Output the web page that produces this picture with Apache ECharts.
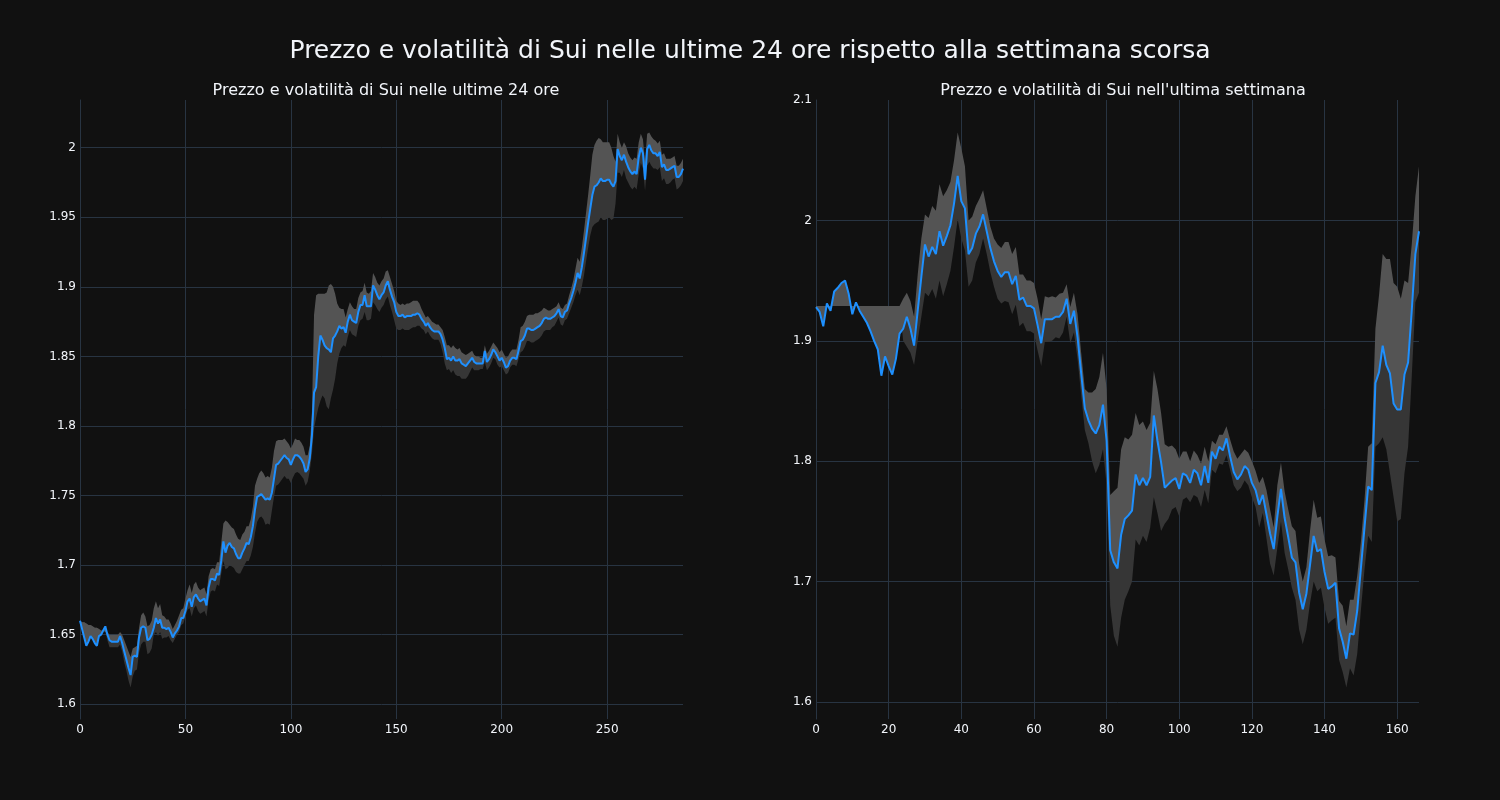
<!DOCTYPE html>
<html><head><meta charset="utf-8">
<script src="https://cdn.jsdelivr.net/npm/echarts@6/dist/echarts.min.js"></script>
<style>html,body{margin:0;padding:0;background:#111111;}#chart{width:1500px;height:800px;}</style>
</head><body><div id="chart"></div>
<script>
const mainTitle = "Prezzo e volatilità di Sui nelle ultime 24 ore rispetto alla settimana scorsa";
const dayTitle = "Prezzo e volatilità di Sui nelle ultime 24 ore";
const weekTitle = "Prezzo e volatilità di Sui nell'ultima settimana";

const dayPrice = [
1.660,1.654,1.648,1.642,1.645,1.649,1.647,1.644,1.642,1.649,
1.650,1.653,1.656,1.650,1.646,1.645,1.645,1.645,1.645,1.649,
1.644,1.638,1.632,1.626,1.621,1.634,1.635,1.634,1.648,1.655,
1.656,1.655,1.646,1.647,1.650,1.655,1.662,1.658,1.661,1.655,
1.655,1.654,1.655,1.652,1.648,1.651,1.653,1.656,1.662,1.662,
1.667,1.674,1.676,1.670,1.677,1.679,1.676,1.674,1.675,1.676,
1.671,1.684,1.690,1.690,1.689,1.694,1.693,1.703,1.717,1.709,
1.714,1.716,1.713,1.712,1.708,1.705,1.705,1.709,1.712,1.716,
1.715,1.720,1.728,1.740,1.749,1.750,1.751,1.749,1.747,1.748,
1.747,1.752,1.762,1.772,1.773,1.775,1.777,1.779,1.777,1.776,
1.772,1.776,1.779,1.779,1.778,1.776,1.773,1.767,1.769,1.777,
1.793,1.824,1.828,1.850,1.865,1.862,1.858,1.856,1.855,1.853,
1.863,1.865,1.868,1.872,1.870,1.871,1.867,1.875,1.880,1.876,
1.875,1.874,1.882,1.887,1.887,1.894,1.886,1.886,1.886,1.901,
1.898,1.894,1.891,1.894,1.896,1.901,1.904,1.898,1.893,1.889,
1.882,1.879,1.879,1.880,1.878,1.879,1.879,1.879,1.880,1.880,
1.881,1.880,1.877,1.875,1.872,1.874,1.871,1.869,1.868,1.868,
1.868,1.866,1.862,1.856,1.848,1.849,1.847,1.850,1.847,1.847,
1.848,1.845,1.844,1.843,1.845,1.847,1.849,1.846,1.845,1.845,
1.845,1.845,1.854,1.846,1.848,1.851,1.855,1.853,1.850,1.847,
1.849,1.846,1.842,1.843,1.847,1.849,1.849,1.848,1.854,1.861,
1.862,1.865,1.870,1.870,1.869,1.869,1.870,1.871,1.872,1.874,
1.877,1.878,1.877,1.877,1.878,1.879,1.881,1.884,1.879,1.878,
1.882,1.883,1.888,1.892,1.897,1.903,1.910,1.906,1.914,1.924,
1.935,1.946,1.956,1.966,1.972,1.973,1.975,1.978,1.976,1.976,
1.977,1.977,1.974,1.972,1.976,1.999,1.994,1.991,1.995,1.990,
1.986,1.983,1.981,1.983,1.981,1.993,2.000,1.996,1.977,1.999,
2.002,1.998,1.996,1.996,1.994,1.997,1.986,1.988,1.984,1.984,
1.985,1.986,1.987,1.979,1.979,1.981,1.985
];
const dayUpper = [
1.660,1.659,1.659,1.658,1.657,1.657,1.656,1.655,1.655,1.654,
1.653,1.653,1.652,1.652,1.650,1.650,1.650,1.650,1.650,1.652,
1.650,1.646,1.642,1.638,1.634,1.640,1.641,1.642,1.655,1.664,
1.666,1.663,1.656,1.657,1.660,1.669,1.674,1.669,1.672,1.664,
1.663,1.661,1.661,1.658,1.654,1.657,1.660,1.664,1.668,1.669,
1.676,1.682,1.686,1.680,1.686,1.688,1.684,1.682,1.683,1.684,
1.679,1.692,1.697,1.698,1.697,1.702,1.702,1.716,1.730,1.732,
1.731,1.729,1.727,1.726,1.722,1.719,1.718,1.722,1.724,1.728,
1.728,1.733,1.742,1.757,1.762,1.766,1.768,1.766,1.763,1.764,
1.763,1.770,1.782,1.789,1.790,1.790,1.790,1.791,1.789,1.787,
1.784,1.787,1.791,1.790,1.790,1.788,1.785,1.779,1.779,1.786,
1.810,1.880,1.894,1.895,1.895,1.895,1.895,1.896,1.901,1.902,
1.900,1.895,1.888,1.885,1.884,1.884,1.878,1.884,1.889,1.886,
1.884,1.884,1.892,1.896,1.897,1.903,1.896,1.895,1.897,1.910,
1.907,1.903,1.901,1.904,1.906,1.911,1.912,1.907,1.902,1.897,
1.890,1.888,1.887,1.888,1.887,1.888,1.888,1.889,1.890,1.890,
1.890,1.888,1.884,1.881,1.878,1.879,1.877,1.875,1.874,1.873,
1.873,1.871,1.869,1.864,1.858,1.858,1.856,1.858,1.856,1.855,
1.856,1.853,1.852,1.851,1.852,1.853,1.854,1.851,1.850,1.850,
1.849,1.849,1.858,1.852,1.854,1.857,1.860,1.858,1.856,1.853,
1.855,1.852,1.849,1.850,1.853,1.855,1.855,1.855,1.862,1.871,
1.872,1.875,1.879,1.880,1.880,1.880,1.881,1.881,1.882,1.883,
1.885,1.884,1.883,1.883,1.884,1.885,1.886,1.889,1.885,1.884,
1.887,1.888,1.894,1.899,1.905,1.913,1.921,1.918,1.928,1.940,
1.953,1.966,1.980,1.995,2.002,2.005,2.007,2.006,2.004,2.004,
2.004,2.004,2.000,1.994,1.990,2.010,2.004,2.000,2.004,2.001,
1.996,1.993,1.991,1.993,1.992,2.004,2.010,2.006,1.990,2.010,
2.011,2.008,2.006,2.005,2.003,2.005,1.995,1.996,1.992,1.992,
1.992,1.993,1.994,1.987,1.987,1.989,1.992
];
const dayLower = [
1.660,1.659,1.659,1.658,1.657,1.657,1.656,1.655,1.655,1.654,
1.653,1.653,1.652,1.646,1.641,1.641,1.641,1.641,1.641,1.643,
1.638,1.630,1.624,1.617,1.612,1.620,1.624,1.625,1.637,1.643,
1.645,1.645,1.636,1.637,1.640,1.650,1.652,1.649,1.652,1.647,
1.648,1.648,1.649,1.646,1.644,1.647,1.650,1.652,1.657,1.658,
1.663,1.668,1.669,1.663,1.669,1.671,1.667,1.665,1.666,1.667,
1.663,1.675,1.681,1.682,1.681,1.686,1.685,1.694,1.703,1.697,
1.698,1.700,1.699,1.698,1.695,1.694,1.694,1.697,1.700,1.703,
1.703,1.707,1.713,1.723,1.731,1.734,1.735,1.733,1.729,1.730,
1.729,1.739,1.749,1.757,1.758,1.760,1.762,1.764,1.762,1.762,
1.759,1.763,1.766,1.767,1.766,1.764,1.762,1.757,1.760,1.768,
1.780,1.798,1.806,1.813,1.818,1.822,1.820,1.814,1.812,1.820,
1.826,1.834,1.845,1.852,1.856,1.858,1.857,1.864,1.869,1.866,
1.865,1.864,1.872,1.876,1.877,1.882,1.876,1.876,1.877,1.889,
1.887,1.884,1.882,1.885,1.887,1.891,1.893,1.887,1.882,1.876,
1.870,1.869,1.869,1.870,1.869,1.869,1.869,1.870,1.871,1.871,
1.872,1.872,1.870,1.869,1.866,1.868,1.865,1.863,1.862,1.862,
1.862,1.859,1.853,1.845,1.840,1.841,1.838,1.840,1.837,1.836,
1.836,1.834,1.834,1.834,1.836,1.839,1.842,1.840,1.840,1.840,
1.841,1.841,1.846,1.840,1.842,1.845,1.849,1.848,1.844,1.842,
1.843,1.840,1.837,1.838,1.842,1.844,1.844,1.843,1.848,1.853,
1.854,1.857,1.861,1.861,1.860,1.860,1.861,1.862,1.863,1.865,
1.868,1.869,1.869,1.869,1.871,1.872,1.875,1.878,1.873,1.872,
1.876,1.877,1.881,1.885,1.889,1.894,1.898,1.894,1.900,1.908,
1.918,1.928,1.937,1.943,1.945,1.946,1.947,1.950,1.948,1.948,
1.949,1.950,1.948,1.949,1.960,1.982,1.982,1.979,1.984,1.978,
1.975,1.972,1.970,1.972,1.970,1.981,1.989,1.985,1.969,1.987,
1.990,1.987,1.985,1.985,1.984,1.986,1.976,1.978,1.974,1.974,
1.975,1.977,1.978,1.970,1.971,1.973,1.976
];

const weekPrice = [
1.928,1.924,1.912,1.931,1.925,1.941,1.944,1.948,1.950,1.939,
1.922,1.932,1.925,1.920,1.915,1.908,1.900,1.893,1.871,1.887,
1.879,1.872,1.885,1.906,1.910,1.920,1.910,1.896,1.925,1.953,
1.980,1.970,1.978,1.972,1.991,1.979,1.987,1.996,2.014,2.037,
2.016,2.010,1.972,1.977,1.989,1.995,2.005,1.991,1.977,1.966,
1.958,1.953,1.957,1.957,1.947,1.954,1.934,1.936,1.929,1.929,
1.927,1.913,1.898,1.918,1.918,1.918,1.920,1.920,1.924,1.935,
1.914,1.925,1.903,1.873,1.844,1.834,1.827,1.823,1.830,1.847,
1.817,1.726,1.716,1.711,1.739,1.752,1.755,1.759,1.789,1.780,
1.786,1.780,1.787,1.838,1.817,1.799,1.778,1.781,1.784,1.786,
1.777,1.790,1.788,1.782,1.793,1.790,1.780,1.796,1.782,1.808,
1.802,1.812,1.809,1.819,1.804,1.791,1.785,1.789,1.796,1.793,
1.782,1.776,1.764,1.772,1.756,1.740,1.727,1.754,1.777,1.753,
1.737,1.720,1.716,1.691,1.677,1.690,1.714,1.738,1.725,1.727,
1.708,1.694,1.696,1.699,1.661,1.650,1.636,1.657,1.656,1.676,
1.711,1.745,1.779,1.776,1.865,1.874,1.896,1.880,1.873,1.848,
1.843,1.843,1.872,1.882,1.925,1.972,1.991
];
const weekUpper = [
1.929,1.929,1.929,1.929,1.929,1.929,1.929,1.929,1.929,1.929,
1.929,1.929,1.929,1.929,1.929,1.929,1.929,1.929,1.929,1.929,
1.929,1.929,1.929,1.929,1.935,1.940,1.933,1.920,1.955,1.985,
2.005,2.002,2.012,2.008,2.030,2.020,2.025,2.032,2.050,2.073,
2.060,2.045,2.000,2.003,2.012,2.018,2.025,2.010,1.995,1.985,
1.980,1.977,1.982,1.982,1.972,1.978,1.955,1.955,1.950,1.950,
1.948,1.935,1.918,1.937,1.936,1.937,1.936,1.939,1.940,1.947,
1.928,1.940,1.922,1.890,1.860,1.857,1.857,1.860,1.870,1.890,
1.860,1.772,1.775,1.778,1.810,1.820,1.818,1.822,1.840,1.830,
1.833,1.826,1.832,1.875,1.860,1.840,1.814,1.812,1.813,1.810,
1.802,1.808,1.808,1.800,1.809,1.805,1.798,1.812,1.800,1.817,
1.814,1.822,1.822,1.829,1.818,1.808,1.802,1.806,1.810,1.807,
1.800,1.792,1.782,1.787,1.776,1.760,1.745,1.780,1.799,1.775,
1.760,1.746,1.742,1.715,1.700,1.712,1.742,1.768,1.753,1.754,
1.735,1.721,1.722,1.720,1.684,1.680,1.663,1.685,1.685,1.705,
1.733,1.768,1.812,1.815,1.910,1.938,1.972,1.968,1.968,1.948,
1.945,1.935,1.950,1.948,1.980,2.020,2.045
];
const weekLower = [
1.929,1.929,1.929,1.929,1.929,1.929,1.929,1.929,1.929,1.929,
1.929,1.929,1.929,1.929,1.929,1.929,1.929,1.929,1.929,1.929,
1.929,1.929,1.929,1.929,1.900,1.895,1.890,1.880,1.900,1.920,
1.940,1.937,1.943,1.935,1.950,1.937,1.947,1.958,1.978,2.001,
1.985,1.975,1.945,1.950,1.965,1.972,1.985,1.972,1.957,1.945,
1.935,1.931,1.933,1.932,1.922,1.930,1.912,1.915,1.908,1.908,
1.906,1.892,1.879,1.899,1.899,1.900,1.903,1.902,1.907,1.920,
1.898,1.907,1.885,1.855,1.826,1.815,1.800,1.790,1.797,1.810,
1.780,1.680,1.655,1.646,1.670,1.685,1.692,1.700,1.735,1.730,
1.738,1.733,1.745,1.770,1.757,1.742,1.748,1.752,1.760,1.762,
1.754,1.768,1.770,1.766,1.772,1.770,1.762,1.776,1.765,1.793,
1.790,1.798,1.797,1.805,1.793,1.780,1.775,1.778,1.784,1.780,
1.770,1.762,1.745,1.757,1.736,1.715,1.705,1.728,1.750,1.724,
1.710,1.695,1.685,1.660,1.648,1.660,1.682,1.700,1.692,1.695,
1.678,1.665,1.668,1.670,1.635,1.625,1.612,1.628,1.622,1.640,
1.676,1.710,1.738,1.733,1.812,1.815,1.820,1.810,1.790,1.770,
1.750,1.752,1.790,1.812,1.870,1.932,1.940
];

const dayTickStep = 50;
const weekTickStep = 20;

const FONT = 'DejaVu Sans';
const TXT = '#f2f5fa';
const GRID = '#283442';

function diff(a, b) { return a.map((v, i) => +(v - b[i]).toFixed(5)); }

function bandSeries(idx, price, upper, lower) {
  const common = { type: 'line', xAxisIndex: idx, yAxisIndex: idx, symbol: 'none', silent: true, animation: false };
  const st = 'band' + idx;
  return [
    Object.assign({}, common, { stack: st, stackStrategy: 'all', data: lower.slice(), lineStyle: { opacity: 0, width: 0 } }),
    Object.assign({}, common, { stack: st, stackStrategy: 'all', data: diff(price, lower), lineStyle: { opacity: 0, width: 0 }, areaStyle: { color: '#363636', opacity: 1 } }),
    Object.assign({}, common, { stack: st, stackStrategy: 'all', data: diff(upper, price), lineStyle: { opacity: 0, width: 0 }, areaStyle: { color: '#545454', opacity: 1 } }),
    Object.assign({}, common, { data: price.slice(), lineStyle: { color: '#1e90ff', width: 2 } })
  ];
}

function xAxis(idx, n, step) {
  const cats = Array.from({ length: n }, (_, i) => String(i));
  const every = (i) => i % step === 0;
  return {
    type: 'category', gridIndex: idx, data: cats, boundaryGap: false,
    axisLine: { show: false }, axisTick: { show: false },
    axisLabel: { color: TXT, fontFamily: FONT, fontSize: 12, margin: 5, interval: every },
    splitLine: { show: true, interval: every, lineStyle: { color: GRID, width: 1 } }
  };
}
function yAxis(idx, min, max, splitNumber, showMax) {
  return {
    type: 'value', gridIndex: idx, min: min, max: max, splitNumber: splitNumber,
    axisLine: { show: true, lineStyle: { color: GRID, width: 1 } }, axisTick: { show: false },
    axisLabel: { color: TXT, fontFamily: FONT, fontSize: 12, margin: 4, showMinLabel: false, showMaxLabel: showMax,
      formatter: v => String(+(+v).toFixed(3)) },
    splitLine: { show: true, showMinLine: false, showMaxLine: false, lineStyle: { color: GRID, width: 1 } }
  };
}

const chart = echarts.init(document.getElementById('chart'), null, { renderer: 'canvas' });
chart.setOption({
  backgroundColor: '#111111',
  animation: false,
  title: [
    { text: mainTitle, left: 'center', top: 34, textStyle: { color: TXT, fontFamily: FONT, fontSize: 25, fontWeight: 'normal' } },
    { text: dayTitle, left: 381, textAlign: 'center', top: 78, textStyle: { color: TXT, fontFamily: FONT, fontSize: 16, fontWeight: 'normal' } },
    { text: weekTitle, left: 1118, textAlign: 'center', top: 78, textStyle: { color: TXT, fontFamily: FONT, fontSize: 16, fontWeight: 'normal' } }
  ],
  grid: [
    { left: 80, top: 100, width: 603, height: 619 },
    { left: 816, top: 100, width: 603, height: 619 }
  ],
  xAxis: [ xAxis(0, dayPrice.length, dayTickStep), xAxis(1, weekPrice.length, weekTickStep) ],
  yAxis: [ yAxis(0, 1.5894, 2.0343, 9, false), yAxis(1, 1.5859, 2.1, 5, true) ],
  series: [].concat(bandSeries(0, dayPrice, dayUpper, dayLower), bandSeries(1, weekPrice, weekUpper, weekLower))
});
</script>
</body></html>
